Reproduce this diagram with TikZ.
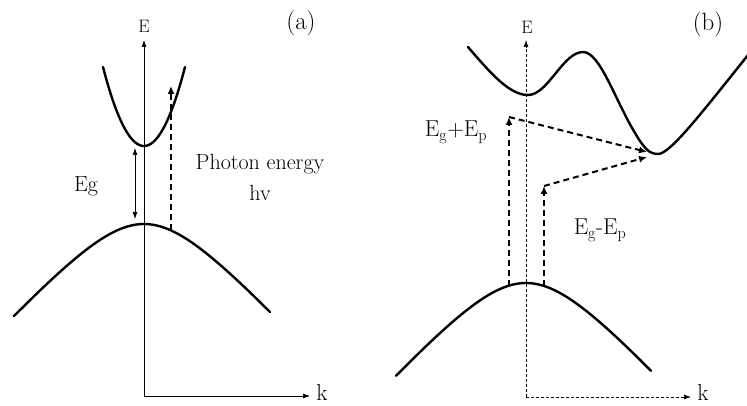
\documentclass[tikz,border=0pt]{standalone}
\usepackage{tikz}
\usetikzlibrary{arrows.meta}

\tikzset{
  band/.style={line width=2.4pt, line cap=round, line join=round},
  axis/.style={line width=0.7pt, -{Latex[length=7pt,width=5pt]}},
  gaparrow/.style={line width=0.7pt, {Latex[length=7pt,width=5pt]}-{Latex[length=7pt,width=5pt]}},
  trans/.style={line width=2pt, dash pattern=on 6pt off 4pt, -{Latex[length=8pt,width=7pt]}},
  lbl/.style={inner sep=0pt, font=\fontsize{22}{26}\selectfont}
}

\begin{document}
\begin{tikzpicture}[x=1pt, y=-1pt]
  \useasboundingbox (0,0) rectangle (747,406);

  % (a) direct band gap
  \coordinate (oA) at (144,396);
  \coordinate (eA) at (144,40);
  \coordinate (kA) at (310,396);
  \draw[axis] (oA) -- (eA);
  \draw[axis] (oA) -- (kA);
  \node[lbl, font=\fontsize{18}{20}\selectfont] (labEA) at (144,26) {E};
  \node[lbl, font=\fontsize{23}{26}\selectfont] (labkA) at (322,393) {k};
  \node[lbl, font=\fontsize{25}{28}\selectfont] (labA) at (301,23) {(a)};

  \draw[band] plot[domain=-41:41, samples=60] ({144+\x},{146-0.047*\x*\x});
  \draw[band] plot[domain=-130:126, samples=80] ({144+\x},{224+66.4*(sqrt(1+(\x/60)*(\x/60))-1)});

  \coordinate (gapTopA) at (135,148);
  \coordinate (gapBotA) at (135,219);
  \draw[gaparrow] (gapTopA) -- (gapBotA);
  \node[lbl] (labEg) at (86,186) {Eg};

  \coordinate (vbA) at (171,230);
  \coordinate (cbA) at (171,86);
  \draw[trans] (vbA) -- (cbA);
  \node[lbl] (labPhoton) at (260,164) {Photon energy};
  \node[lbl] (labhv) at (260,193) {hv};

  % (b) indirect band gap
  \coordinate (oB) at (526,397);
  \coordinate (eB) at (526,40);
  \coordinate (kB) at (691,397);
  \draw[axis, dash pattern=on 3pt off 2pt] (oB) -- (eB);
  \draw[axis, dash pattern=on 3pt off 2pt] (oB) -- (kB);
  \node[lbl, font=\fontsize{18}{20}\selectfont] (labEB) at (527,27) {E};
  \node[lbl, font=\fontsize{23}{26}\selectfont] (labkB) at (703,393) {k};
  \node[lbl, font=\fontsize{25}{28}\selectfont] (labB) at (708,24) {(b)};

  \draw[band] (468,47) .. controls (492,75) and (510,95) .. (528,95)
    .. controls (548,95) and (563,52) .. (583,52)
    .. controls (600,52) and (615,100) .. (635,133)
    .. controls (645,150) and (650,154) .. (658,154)
    .. controls (670,154) and (700,115) .. (752,50);
  \draw[band] plot[domain=-130:125, samples=80] ({526+\x},{283+67*(sqrt(1+(\x/60)*(\x/60))-1)});

  \coordinate (vbB1) at (509,286);
  \coordinate (upB1) at (509,117);
  \coordinate (minB1) at (647,152);
  \draw[trans] (vbB1) -- (upB1);
  \draw[trans] (upB1) -- (minB1);

  \coordinate (vbB2) at (544,286);
  \coordinate (upB2) at (544,186);
  \coordinate (minB2) at (647,157);
  \draw[trans] (vbB2) -- (upB2);
  \draw[trans] (upB2) -- (minB2);

  \node[lbl, font=\fontsize{23}{26}\selectfont] (labPlus) at (456,132) {E\textsubscript{g}+E\textsubscript{p}};
  \node[lbl, font=\fontsize{23}{26}\selectfont] (labMinus) at (600,230) {E\textsubscript{g}-E\textsubscript{p}};
\end{tikzpicture}
\end{document}
